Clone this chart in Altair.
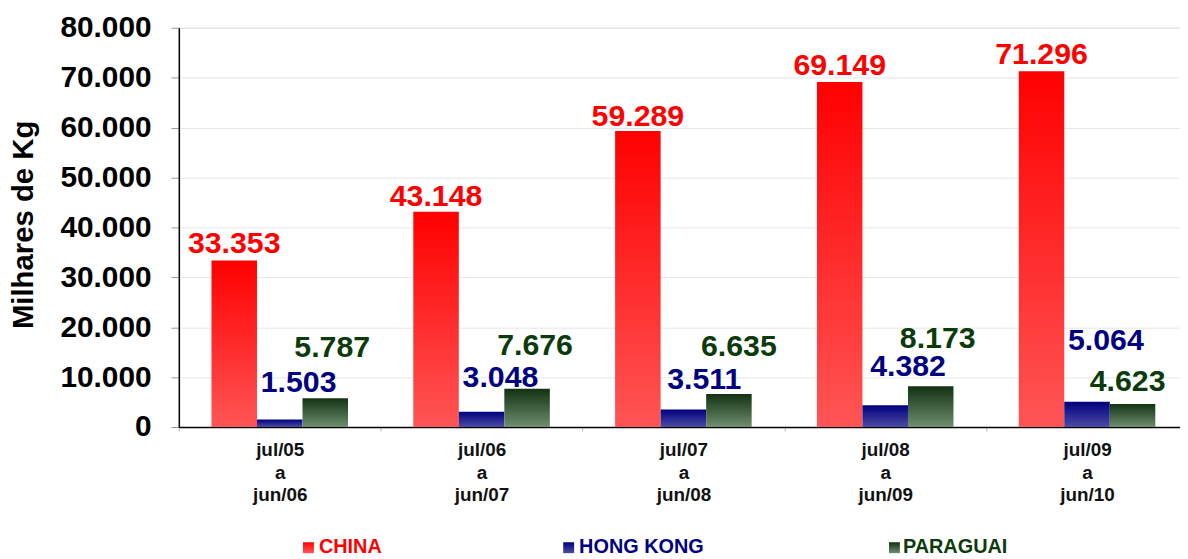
import altair as alt
import pandas as pd

# ---------------- data ----------------
periods = ["jul/05 a jun/06", "jul/06 a jun/07", "jul/07 a jun/08",
           "jul/08 a jun/09", "jul/09 a jun/10"]
series_names = ["CHINA", "HONG KONG", "PARAGUAI"]
china = [33353, 43148, 59289, 69149, 71296]
hong_kong = [1503, 3048, 3511, 4382, 5064]
paraguai = [5787, 7676, 6635, 8173, 4623]
y_ticks = [0, 10000, 20000, 30000, 40000, 50000, 60000, 70000, 80000]
y_title = "Milhares de Kg"

# ---------------- styles ----------------
FONT = "Liberation Sans"
gradient_stops = {
    "CHINA": ("#ff0000", "#ff5555"),
    "HONG KONG": ("#000080", "#4b4ba2"),
    "PARAGUAI": ("#123212", "#6f8d6f"),
}
text_colors = {"CHINA": "#ff0000", "HONG KONG": "#000080", "PARAGUAI": "#0b3b0b"}
# label nudges (pixels) relative to each bar's top centre
label_dx = {"CHINA": [0, 0, 0, 0, 0],
            "HONG KONG": [19, 19, 21, 23, 19],
            "PARAGUAI": [7, 8, 10, 7, -5]}
label_lift = {"CHINA": [8, 6, 5, 7, 7],
              "HONG KONG": [28, 25, 21, 29, 52],
              "PARAGUAI": [41, 34, 38, 38, 13]}
legend_pos = {"CHINA": (125, 141), "HONG KONG": (387, 403), "PARAGUAI": (715, 729)}

values = {"CHINA": china, "HONG KONG": hong_kong, "PARAGUAI": paraguai}
rows = []
for s in series_names:
    for i, p in enumerate(periods):
        v = values[s][i]
        rows.append({"period": p, "series": s, "value": v,
                     "label": f"{v:,}".replace(",", ".")})
df = pd.DataFrame(rows)


def grad(s):
    top, bottom = gradient_stops[s]
    return alt.LinearGradient(gradient="linear", x1=0, y1=0, x2=0, y2=1,
                              stops=[alt.GradientStop(color=top, offset=0),
                                     alt.GradientStop(color=bottom, offset=1)])


x_enc = alt.X("period:N",
              scale=alt.Scale(domain=periods, range=[0, 1016],
                              paddingInner=0, paddingOuter=0),
              axis=alt.Axis(title=None, labelExpr="split(datum.label, ' ')",
                            tickBand="extent", labelAngle=0, labelFontSize=19,
                            labelFontWeight="bold", labelFont=FONT,
                            labelColor="#111111", labelLineHeight=22.5,
                            labelPadding=10, labelBaseline="top", tickSize=4,
                            tickColor="#bbbbbb", domainColor="#000000",
                            domainWidth=1.5, grid=False))
xoff_enc = alt.XOffset("series:N",
                       scale=alt.Scale(domain=series_names, paddingInner=0,
                                       paddingOuter=0.717))
y_enc = alt.Y("value:Q",
              scale=alt.Scale(domain=[0, 80000], nice=False),
              axis=alt.Axis(values=y_ticks,
                            labelExpr="replace(format(datum.value, ',d'), ',', '.')",
                            title=y_title, titleFont=FONT, titleFontSize=29.5,
                            titleFontWeight="bold", titleColor="#000000",
                            titleAngle=-90, titleX=-147, titleY=198,
                            titleAlign="center", titleBaseline="alphabetic",
                            labelFont=FONT, labelFontSize=30,
                            labelFontWeight="bold", labelColor="#000000",
                            labelPadding=20, tickSize=8, tickColor="#999999",
                            gridColor="#e6e6e6", domainColor="#000000",
                            domainWidth=1.5))

base = alt.Chart(df)
layers = []
for s in series_names:
    layers.append(base.transform_filter(alt.datum.series == s)
                  .mark_bar(color=grad(s))
                  .encode(x=x_enc, xOffset=xoff_enc, y=y_enc))

for s in series_names:
    for i, p in enumerate(periods):
        layers.append(
            base.transform_filter((alt.datum.series == s) & (alt.datum.period == p))
            .mark_text(dx=label_dx[s][i], dy=-label_lift[s][i],
                       color=text_colors[s], font=FONT, fontSize=30.5,
                       fontWeight="bold", align="center", baseline="alphabetic")
            .encode(x=x_enc, xOffset=xoff_enc, y=y_enc,
                    text=alt.Text("label:N")))

legend_df = pd.DataFrame({"series": series_names})
for s in series_names:
    sx, tx = legend_pos[s]
    lb = alt.Chart(legend_df).transform_filter(alt.datum.series == s)
    layers.append(lb.mark_rect(color=grad(s)).encode(
        x=alt.value(sx), x2=alt.value(sx + 11),
        y=alt.value(518), y2=alt.value(529)))
    layers.append(lb.mark_text(color=text_colors[s], font=FONT, fontSize=20,
                               fontWeight="bold", align="left",
                               baseline="alphabetic").encode(
        x=alt.value(tx), y=alt.value(529), text=alt.Text("series:N")))

chart = alt.layer(*layers).properties(
    width=1008, height=402,
    autosize=alt.AutoSizeParams(type="none"),
    padding={"left": 172, "top": 18, "right": 0, "bottom": 131},
).configure_view(strokeWidth=0).configure(background="#ffffff")

chart.save("out.html", embed_options={"renderer": "svg", "actions": False})
